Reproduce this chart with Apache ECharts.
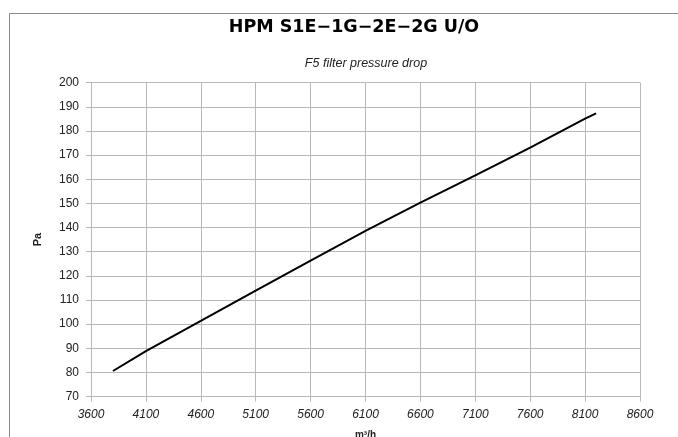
<!DOCTYPE html>
<html><head><meta charset="utf-8">
<script src="https://cdn.jsdelivr.net/npm/echarts@6/dist/echarts.min.js"></script>
<style>html,body{margin:0;padding:0;background:#fff}#c{width:678px;height:437px}</style>
</head><body><div id="c"></div>
<script>
const airflow = [3800, 4100, 4600, 5100, 5600, 6100, 6600, 7100, 7600, 8100, 8200];
const pressure = [80.6, 88.8, 101.3, 113.9, 126.3, 138.6, 150.3, 161.6, 173.1, 185.1, 187.3];
const titleText = 'HPM S1E\u22121G\u22122E\u22122G U/O';
const subtitleText = 'F5 filter pressure drop';
const xName = 'm\u00b3/h';
const yName = 'Pa';

const chart = echarts.init(document.getElementById('c'), null, {renderer: 'canvas'});
const gridColor = '#b8b8b8';
chart.setOption({
  animation: false,
  backgroundColor: '#fff',
  title: [
    {text: titleText, left: 349, top: 13, textAlign: 'center',
     textStyle: {fontFamily: 'DejaVu Sans', fontWeight: 'bold', fontSize: 17.5, color: '#000'}},
    {text: subtitleText, left: 361, top: 52, textAlign: 'center',
     textStyle: {fontFamily: 'Liberation Sans', fontStyle: 'italic', fontWeight: 'normal', fontSize: 12.5, color: '#222'}}
  ],
  graphic: [
    {type: 'rect', shape: {x: 9.5, y: 13.5, width: 720, height: 500}, silent: true,
     style: {fill: 'none', stroke: '#8a8a8a', lineWidth: 1}, z: -1}
  ],
  grid: {left: 91, top: 82.6, right: 38, bottom: 40.4, outerBoundsMode: 'none', containLabel: false},
  xAxis: {
    type: 'value', min: 3600, max: 8600, interval: 500,
    name: xName, nameLocation: 'middle', nameGap: 34,
    nameTextStyle: {fontFamily: 'Liberation Sans', fontWeight: 'bold', fontSize: 10, color: '#222'},
    axisLine: {show: true, lineStyle: {color: gridColor}},
    axisTick: {show: true, length: 5, lineStyle: {color: gridColor}},
    axisLabel: {fontFamily: 'Liberation Sans', fontStyle: 'italic', fontSize: 12, color: '#222', margin: 12,
      formatter: v => String(v)},
    splitLine: {show: true, lineStyle: {color: gridColor, width: 1}}
  },
  yAxis: {
    type: 'value', min: 70, max: 200, interval: 10,
    name: yName, nameLocation: 'middle', nameGap: 48,
    nameTextStyle: {fontFamily: 'Liberation Sans', fontWeight: 'bold', fontSize: 11, color: '#222'},
    axisLine: {show: true, lineStyle: {color: gridColor}},
    axisTick: {show: true, length: 5, lineStyle: {color: gridColor}},
    axisLabel: {fontFamily: 'Liberation Sans', fontSize: 12, color: '#222', margin: 12},
    splitLine: {show: true, lineStyle: {color: gridColor, width: 1}}
  },
  series: [{
    type: 'line',
    data: airflow.map((x, i) => [x, pressure[i]]),
    showSymbol: false,
    smooth: false,
    lineStyle: {color: '#000', width: 2}
  }]
});
</script></body></html>
